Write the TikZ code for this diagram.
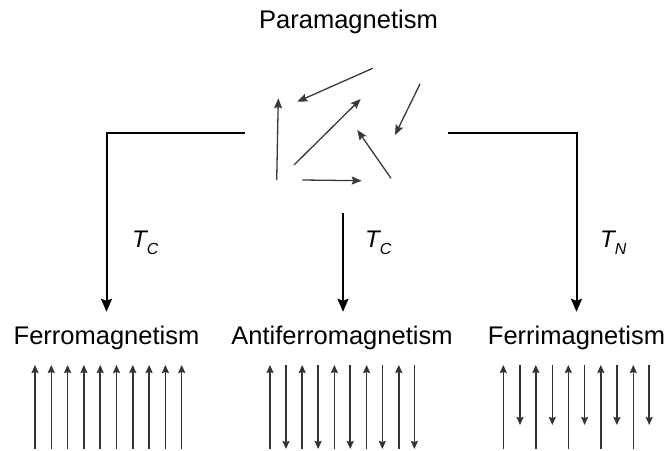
\documentclass[tikz,border=0pt]{standalone}
\usepackage{fontspec}
\setmainfont{Liberation Sans}
\usepackage{tikz}
\usetikzlibrary{arrows.meta,positioning,calc}
\newcommand{\sublab}[1]{\raisebox{-7pt}{\fontsize{16}{16}\selectfont\itshape #1}}

\begin{document}
\begin{tikzpicture}[
    x=1pt, y=1pt,
    mag/.style={font=\fontsize{25.5}{30}\selectfont, inner sep=0pt,
      text height=18pt, text depth=5pt, anchor=base},
    tlab/.style={font=\fontsize{24}{28}\selectfont\itshape, inner sep=0pt, anchor=base west},
    conn/.style={-{Stealth[length=13pt,width=11pt,inset=2pt]}, line width=2pt,
      draw=black, shorten >=14pt},
    para/.style={-{Stealth[length=10pt,width=8pt,inset=1.5pt]}, line width=1.3pt,
      draw=black!78},
    spin/.style={-{Stealth[length=8pt,width=7pt,inset=1pt]}, line width=1.5pt,
      draw=black!80}
  ]
  \useasboundingbox (0,0) rectangle (669,450);
  \node[mag] (pm) at (348.5,421) {Paramagnetism};
  % random moments above T_C
  \draw[para] (276.7,270) -- (278.3,351.7);
  \draw[para] (372.7,381.7) -- (297.3,348.3);
  \draw[para] (294,285) -- (360.7,351);
  \draw[para] (420,366) -- (395,315);
  \draw[para] (391,271.7) -- (357.3,320);
  \draw[para] (302.3,270) -- (361.7,269.3);
  \coordinate (pl) at (245,317);
  \coordinate (pr) at (448,317);
  \coordinate (pc) at (343,237);

  \node[mag] (ferro) at (106.5,106) {Ferromagnetism};
  \node[mag] (antiferro) at (342,106) {Antiferromagnetism};
  \node[mag] (ferri) at (576.5,106) {Ferrimagnetism};
  \draw[conn] (pl) -| (ferro.north);
  \draw[conn] (pc) -- (pc |- antiferro.north);
  \draw[conn] (pr) -| (ferri.north);
  \node[tlab] (tc1) at (132,202) {T\sublab{C}};
  \node[tlab] (tc2) at (365,202) {T\sublab{C}};
  \node[tlab] (tn) at (600,202) {T\sublab{N}};

  % ordered moments below the transition
  \foreach \i in {0,...,9}
    \draw[spin] (35+16.3*\i,1) -- (35+16.3*\i,85);
  \foreach \i in {0,...,4} {
    \draw[spin] (270+32.2*\i,1) -- (270+32.2*\i,85);
    \draw[spin] (286+32.1*\i,85) -- (286+32.1*\i,1);
    \draw[spin] (503.3+32.5*\i,1) -- (503.3+32.5*\i,85);
    \draw[spin] (520+32.3*\i,85) -- (520+32.3*\i,25);
  }
\end{tikzpicture}
\end{document}
